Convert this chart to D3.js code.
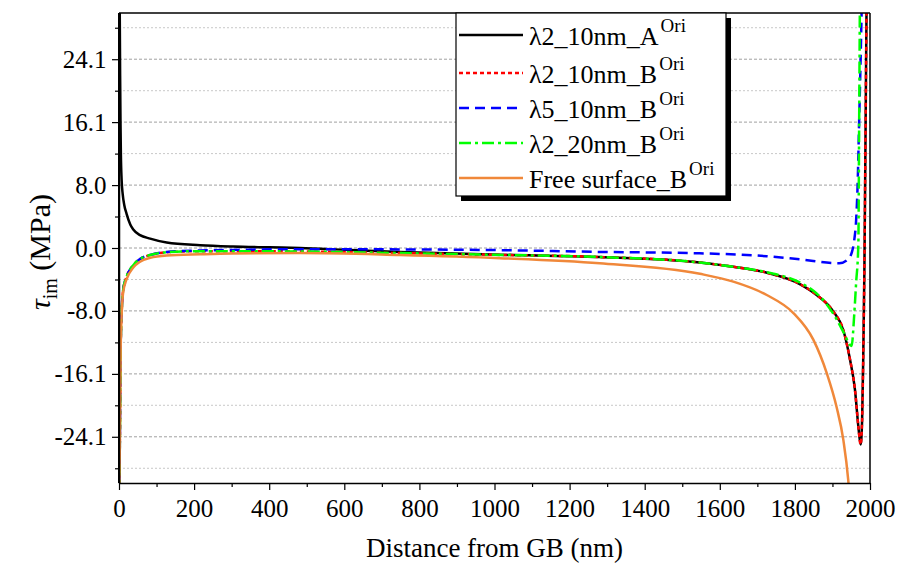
<!DOCTYPE html>
<html>
<head>
<meta charset="utf-8">
<script src="https://cdn.jsdelivr.net/npm/d3@7"></script>
<style>
  html, body { margin: 0; padding: 0; background: #fff; }
</style>
</head>
<body>
<svg id="chart" width="899" height="563"></svg>
<script>
// Image stress along the distance from the grain boundary (GB)
const FONT = '"Times New Roman", "Liberation Serif", Tinos, serif';
const xDomain = [0, 2000];
const yDomain = [-30, 30];
const xTicks = [0, 200, 400, 600, 800, 1000, 1200, 1400, 1600, 1800, 2000];
const xMinorTicks = [100, 300, 500, 700, 900, 1100, 1300, 1500, 1700, 1900];
const yTicks = [-24.1, -16.07, -8.03, 0, 8.03, 16.07, 24.1];
const yMinorTicks = [-28.12, -20.08, -12.05, -4.02, 4.02, 12.05, 20.08, 28.12];

// λ2_10nm_A
const aX = [1, 2, 3, 4, 5, 7, 10, 14, 20, 30, 38, 56, 83, 127, 216, 304, 400, 482, 600, 748, 1014,
            1280, 1546, 1636, 1725, 1813, 1858, 1902, 1929, 1947, 1960, 1969, 1975, 1979, 1982, 1985, 1987, 1989, 1991];
const aY = [34, 30, 22, 16, 12, 8.7, 6.8, 5.5, 4.4, 3.0, 2.35, 1.65, 1.2, 0.7, 0.35, 0.18, 0.08, 0.0, -0.22, -0.5, -0.85,
            -1.15, -1.85, -2.4, -3.15, -4.6, -6.0, -8.1, -10.5, -14.3, -18.1, -22.8, -25.1, -22, -14, -3, 8, 20, 32];

// λ2_10nm_B
const bX = [0.5, 2, 3, 4.5, 7, 11, 20, 38, 56, 83, 127, 216, 300, 482, 748, 1014, 1280, 1546, 1636, 1725,
            1813, 1858, 1902, 1929, 1947, 1960, 1969, 1975, 1979, 1982, 1985, 1987, 1989, 1991];
const bY = [-32, -26, -21, -12.6, -8.3, -5.4, -3.7, -2.2, -1.4, -0.9, -0.55, -0.4, -0.4, -0.45, -0.65, -0.88, -1.15, -1.85, -2.4, -3.15,
            -4.6, -6.0, -8.1, -10.5, -14.3, -18.1, -22.8, -25.1, -22, -14, -3, 8, 20, 32];

// λ5_10nm_B
const cX = [0.5, 2, 3, 4.5, 7, 11, 20, 38, 56, 83, 127, 216, 300, 482, 748, 1014, 1280, 1546, 1725, 1813,
            1918, 1940, 1952, 1958, 1963, 1967, 1971, 1975, 1978];
const cY = [-32, -26, -21, -12.6, -8.3, -5.4, -3.7, -2.2, -1.4, -0.9, -0.5, -0.32, -0.25, -0.15, -0.18, -0.27, -0.5, -0.68, -1.05, -1.45,
            -1.95, -1.5, -0.5, 1, 3.5, 8, 16, 24, 31];

// λ2_20nm_B
const dX = [0.5, 2, 3, 4.5, 7, 11, 20, 38, 56, 83, 127, 216, 300, 482, 748, 1014, 1280, 1546, 1636, 1725,
            1813, 1850, 1885, 1910, 1930, 1951, 1958, 1963, 1969, 1971, 1973];
const dY = [-32, -26, -21, -12.6, -8.3, -5.4, -3.7, -2.2, -1.4, -0.9, -0.55, -0.4, -0.4, -0.45, -0.65, -0.88, -1.15, -1.85, -2.4, -3.1,
            -4.4, -5.5, -7.2, -9.0, -10.8, -12.5, -8.5, -4.5, 0.5, 15, 31];

// Free surface_B
const eX = [0.5, 2, 3, 4.5, 7, 11, 20, 38, 56, 83, 127, 216, 300, 482, 748, 1014, 1280, 1547, 1636, 1725,
            1796, 1849, 1885, 1911, 1929, 1942, 1946];
const eY = [-32, -26, -21, -12.8, -8.6, -5.7, -4.0, -2.5, -1.75, -1.25, -0.95, -0.8, -0.7, -0.65, -0.9, -1.3, -1.95, -3.3, -4.3, -6.0,
            -8.3, -11.7, -16.0, -20.3, -24.5, -29.6, -32];

const seriesNames = ["λ2_10nm_A", "λ2_10nm_B", "λ5_10nm_B", "λ2_20nm_B", "Free surface_B"];
const seriesColors = ["#000000", "#ff0000", "#0000ff", "#00ff00", "#f0883a"];
const seriesDash = [null, "4,3", "10,6", "12,4,3,4", null];
const seriesX = [aX, bX, cX, dX, eX];
const seriesY = [aY, bY, cY, dY, eY];

const svg = d3.select("#chart");
const W = 899, H = 563;
const margin = { left: 119, right: 29, top: 13, bottom: 80 };
const iw = W - margin.left - margin.right;
const ih = H - margin.top - margin.bottom;

const x = d3.scaleLinear().domain(xDomain).range([0, iw]);
const y = d3.scaleLinear().domain(yDomain).range([ih, 0]);
const fmtY = v => d3.format(".1f")(v).replace("\u2212", "-");

const g = svg.append("g").attr("transform", `translate(${margin.left},${margin.top})`);

// horizontal grid lines at major and minor y ticks
g.append("g").selectAll("line").data(yMinorTicks).join("line")
  .attr("x1", 0).attr("x2", iw).attr("y1", d => y(d)).attr("y2", d => y(d))
  .attr("stroke", "#c8c8c8").attr("stroke-width", 1).attr("stroke-dasharray", "2,2");
g.append("g").selectAll("line").data(yTicks).join("line")
  .attr("x1", 0).attr("x2", iw).attr("y1", d => y(d)).attr("y2", d => y(d))
  .attr("stroke", "#a0a0a0").attr("stroke-width", 1).attr("stroke-dasharray", "3,2");

// curves
svg.append("defs").append("clipPath").attr("id", "plotClip")
  .append("rect").attr("x", 0).attr("y", 0).attr("width", iw).attr("height", ih);

const line = d3.line().x(d => x(d[0])).y(d => y(d[1])).curve(d3.curveMonotoneX);
const plot = g.append("g").attr("clip-path", "url(#plotClip)");
seriesNames.forEach((name, i) => {
  const pts = seriesX[i].map((v, j) => [v, seriesY[i][j]]);
  plot.append("path")
    .datum(pts)
    .attr("d", line)
    .attr("fill", "none")
    .attr("stroke", seriesColors[i])
    .attr("stroke-width", 2.5)
    .attr("stroke-dasharray", seriesDash[i])
    .attr("stroke-linejoin", "round");
});

// axes
const xAxis = g.append("g").attr("transform", `translate(0,${ih})`)
  .call(d3.axisBottom(x).tickValues(xTicks).tickFormat(d3.format("d")).tickSize(7).tickSizeOuter(0));
g.append("g").attr("transform", `translate(0,${ih})`)
  .call(d3.axisBottom(x).tickValues(xMinorTicks).tickFormat("").tickSize(4).tickSizeOuter(0))
  .select(".domain").remove();
const yAxis = g.append("g")
  .call(d3.axisLeft(y).tickValues(yTicks).tickFormat(fmtY).tickSize(7).tickSizeOuter(0));
g.append("g")
  .call(d3.axisLeft(y).tickValues(yMinorTicks).tickFormat("").tickSize(4).tickSizeOuter(0))
  .select(".domain").remove();

[xAxis, yAxis].forEach(a => {
  a.attr("font-family", null);
  a.select(".domain").attr("stroke", "#000").attr("stroke-width", 1.5);
  a.selectAll(".tick text").style("font-family", FONT).style("font-size", "25px").attr("fill", "#000");
});
g.selectAll(".tick line").attr("stroke", "#000").attr("stroke-width", 1.2);
xAxis.selectAll(".tick text").attr("dy", "0.95em");
yAxis.selectAll(".tick text").attr("dx", "-0.1em");

// frame
g.append("line").attr("x1", 0).attr("x2", iw).attr("y1", 0).attr("y2", 0).attr("stroke", "#000").attr("stroke-width", 1.5);
g.append("line").attr("x1", iw).attr("x2", iw).attr("y1", 0).attr("y2", ih).attr("stroke", "#000").attr("stroke-width", 1.5);
g.append("line").attr("x1", 0).attr("x2", 0).attr("y1", 0).attr("y2", ih).attr("stroke", "#000").attr("stroke-width", 2);

// axis titles
svg.append("text")
  .attr("x", margin.left + iw / 2).attr("y", 557)
  .attr("text-anchor", "middle")
  .style("font-family", FONT).style("font-size", "27px")
  .text("Distance from GB (nm)");

const yt = svg.append("text")
  .attr("transform", `translate(50,${margin.top + y(0) + 4}) rotate(-90)`)
  .attr("text-anchor", "middle")
  .style("font-family", FONT).style("font-size", "30px");
yt.append("tspan").style("font-style", "italic").text("τ");
yt.append("tspan").style("font-size", "20px").attr("dy", 7).text("im");
yt.append("tspan").attr("dy", -7).text(" (MPa)");

// legend
const lg = svg.append("g").attr("transform", "translate(456,13)");
const lw = 270, lh = 183;
lg.append("rect").attr("x", 5).attr("y", 5).attr("width", lw).attr("height", lh).attr("fill", "#000");
lg.append("rect").attr("x", 0).attr("y", 0).attr("width", lw).attr("height", lh)
  .attr("fill", "#fff").attr("stroke", "#000").attr("stroke-width", 1.2);
const rowY = [22, 60, 95, 130, 165];
seriesNames.forEach((name, i) => {
  const row = lg.append("g").attr("transform", `translate(0,${rowY[i]})`);
  row.append("line").attr("x1", 3).attr("x2", 67).attr("y1", 0).attr("y2", 0)
    .attr("stroke", seriesColors[i]).attr("stroke-width", 2.5)
    .attr("stroke-dasharray", seriesDash[i]);
  const t = row.append("text").attr("x", 73).attr("y", 10)
    .style("font-family", FONT).style("font-size", "26px");
  t.append("tspan").text(name);
  t.append("tspan").style("font-size", "19px").attr("dy", -13).attr("dx", 2).text("Ori");
});
</script>
</body>
</html>
